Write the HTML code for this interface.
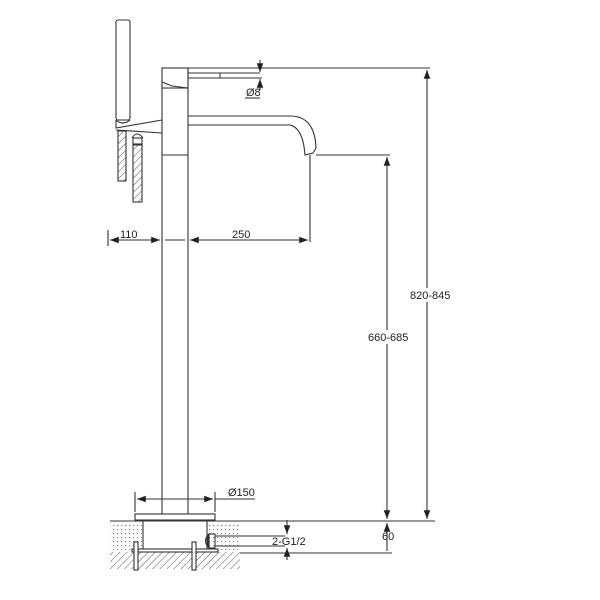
<!DOCTYPE html>
<html><head><style>body{margin:0;background:#fff}svg{display:block}text{font-family:"Liberation Sans",sans-serif;font-size:11px;fill:#222}</style></head><body>
<svg width="600" height="600" viewBox="0 0 600 600">
<defs>
<pattern id="h" width="5" height="5" patternUnits="userSpaceOnUse" patternTransform="rotate(45)"><line x1="0" y1="0" x2="0" y2="5" stroke="#555" stroke-width="1"/></pattern>
<pattern id="d" width="4" height="4" patternUnits="userSpaceOnUse"><rect x="1" y="1" width="1.2" height="1.2" fill="#888"/></pattern>
<marker id="a" markerWidth="8" markerHeight="6" refX="8" refY="3" orient="auto-start-reverse"><path d="M0,0 L8,3 L0,6z" fill="#222"/></marker>
</defs>
<g fill="none" stroke="#333" stroke-width="1.1">
<rect x="116" y="20" width="14" height="100" rx="2"/>
<path d="M116,120 Q123,126 130,120"/>
<path d="M116,120 L116,128 L162,120 M116,130 L162,133"/>
<rect x="118" y="131" width="8" height="50" fill="url(#h)"/>
<rect x="133" y="144" width="9" height="58" fill="url(#h)"/>
<rect x="133" y="138" width="9" height="7"/>
<path d="M132,138 Q137,130 143,138"/>
<line x1="162" y1="88" x2="162" y2="514"/>
<line x1="188" y1="68" x2="188" y2="514"/>
<rect x="162" y="68" width="26" height="20"/>
<path d="M162,82 L172,86 L188,88"/>
<line x1="162" y1="155" x2="188" y2="155"/>
<path d="M188,68 L430,68"/>
<path d="M188,73 L260,73 M188,78 L262,78 M220,73 L220,78"/>
<path d="M188,116 L290,116 Q315,116 316,148 L313,153 L305,155 Q303,128 290,125 L188,125"/>
<line x1="316" y1="155" x2="390" y2="155"/>
<line x1="310" y1="155" x2="310" y2="242"/>
<rect x="135" y="514" width="80" height="6"/>
<line x1="110" y1="521" x2="435" y2="521"/>
<rect x="110" y="523" width="32" height="27" fill="url(#d)" stroke="none"/>
<rect x="208" y="523" width="32" height="27" fill="url(#d)" stroke="none"/>
<rect x="110" y="552" width="130" height="17" fill="url(#h)" stroke="none"/>
<line x1="143" y1="521" x2="143" y2="550"/><line x1="207" y1="521" x2="207" y2="550"/>
<rect x="132" y="549" width="86" height="3" fill="#fff"/>
<rect x="134" y="542" width="4" height="28" fill="#fff"/>
<rect x="192" y="542" width="4" height="28" fill="#fff"/>
<path d="M208,535 Q203,541 208,547 Z" /><rect x="209" y="534" width="6" height="14"/>
<line x1="215" y1="536" x2="285" y2="536"/><line x1="215" y1="546" x2="285" y2="546"/>
<line x1="240" y1="553" x2="392" y2="553"/>
<line x1="108" y1="230" x2="108" y2="246"/>
<line x1="110" y1="240" x2="160" y2="240" marker-start="url(#a)" marker-end="url(#a)"/>
<line x1="190" y1="240" x2="308" y2="240" marker-start="url(#a)" marker-end="url(#a)"/>
<line x1="165" y1="240" x2="185" y2="240"/>
<line x1="387" y1="157" x2="387" y2="519" marker-start="url(#a)" marker-end="url(#a)"/>
<line x1="427" y1="70" x2="427" y2="519" marker-start="url(#a)" marker-end="url(#a)"/>
<line x1="135" y1="492" x2="135" y2="512"/><line x1="215" y1="492" x2="215" y2="512"/>
<line x1="137" y1="499" x2="213" y2="499" marker-start="url(#a)" marker-end="url(#a)"/>
<line x1="215" y1="499" x2="255" y2="499"/>
<line x1="260" y1="60" x2="260" y2="72" marker-end="url(#a)"/>
<line x1="260" y1="90" x2="260" y2="79" marker-end="url(#a)"/>
<line x1="245" y1="98" x2="260" y2="98"/>
<line x1="287" y1="520" x2="287" y2="534" marker-end="url(#a)"/>
<line x1="287" y1="560" x2="287" y2="548" marker-end="url(#a)"/>
<line x1="387" y1="551" x2="387" y2="523" marker-end="url(#a)"/>
</g>
<g fill="#fff"><rect x="367" y="330" width="42" height="14"/><rect x="409" y="288" width="38" height="14"/></g>
<text x="120" y="238">110</text>
<text x="232" y="238">250</text>
<text x="246" y="96">Ø8</text>
<text x="228" y="496">Ø150</text>
<text x="272" y="545">2-G1/2</text>
<text x="382" y="540">60</text>
<text x="368" y="341">660-685</text>
<text x="410" y="299">820-845</text>
</svg>
</body></html>
